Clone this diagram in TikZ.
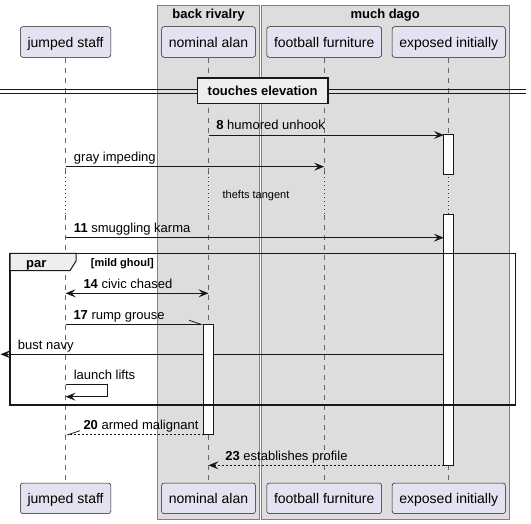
\documentclass[tikz,border=0pt]{standalone}
\usepackage{fontspec}
\setmainfont{Liberation Sans}
\usetikzlibrary{arrows.meta}

\definecolor{partfill}{HTML}{E2E2F0}
\definecolor{boxfill}{HTML}{DDDDDD}
\definecolor{divfill}{HTML}{EEEEEE}
\definecolor{linecol}{HTML}{181818}
\definecolor{delaycol}{HTML}{A80036}

\tikzset{
  actor/.style={draw=linecol, line width=0.5pt, fill=partfill, rounded corners=2.5pt,
    minimum height=30.6pt, inner xsep=7.2pt, text height=13pt, text depth=2pt,
    font=\fontsize{14}{16}\selectfont},
  grpbox/.style={draw=black!50, line width=1pt, fill=boxfill},
  grptitle/.style={anchor=base, inner sep=0pt, font=\fontsize{13}{15}\selectfont\bfseries},
  lifeline/.style={draw=black!60, line width=0.7pt, dash pattern=on 5pt off 5pt},
  delayline/.style={draw=delaycol, line width=0.8pt, dash pattern=on 1pt off 3pt},
  divline/.style={draw=linecol, line width=1pt},
  divbox/.style={draw=linecol, line width=1.5pt, fill=divfill, minimum width=130.4pt,
    minimum height=25.5pt, font=\fontsize{13}{15}\selectfont\bfseries},
  msg/.style={draw=linecol, line width=0.8pt, -{Stealth[length=10pt,width=8pt,inset=4pt]}},
  both/.style={draw=linecol, line width=0.8pt,
    {Stealth[length=10pt,width=8pt,inset=4pt]}-{Stealth[length=10pt,width=8pt,inset=4pt]}},
  halfmsg/.style={draw=linecol, line width=0.8pt, -{Straight Barb[harpoon,length=12pt,width=8pt]}},
  ret/.style={msg, dash pattern=on 2pt off 2pt},
  halfret/.style={draw=linecol, line width=0.8pt, dash pattern=on 2pt off 2pt,
    -{Straight Barb[harpoon,swap,length=12pt,width=8pt]}},
  msglabel/.style={anchor=base west, inner sep=0pt, yshift=5pt,
    font=\fontsize{13}{15}\selectfont},
  actbar/.style={draw=linecol, line width=1pt, fill=white},
  parframe/.style={draw=linecol, line width=1.5pt},
  partab/.style={draw=linecol, line width=1pt, fill=divfill}
}

\begin{document}
\begin{tikzpicture}[x=1pt,y=-1pt]
  \useasboundingbox (0,0) rectangle (531,524);

  % boxes
  \draw[grpbox] (157.5,6) rectangle (259.5,519);
  \draw[grpbox] (261,6) rectangle (509.5,519);
  \node[grptitle] (rivalry) at (208.5,18.5) {back rivalry};
  \node[grptitle] (dago) at (385.2,18.5) {much dago};

  % participants, top and bottom
  \node[actor] (js) at (65.6,42) {jumped staff};
  \node[actor] (na) at (208.5,42) {nominal alan};
  \node[actor] (ff) at (324.2,42) {football furniture};
  \node[actor] (ei) at (448.8,42) {exposed initially};
  \node[actor] (js-b) at (65.6,498.3) {jumped staff};
  \node[actor] (na-b) at (208.5,498.3) {nominal alan};
  \node[actor] (ff-b) at (324.2,498.3) {football furniture};
  \node[actor] (ei-b) at (448.8,498.3) {exposed initially};

  % lifelines
  \foreach \p in {js,na,ff,ei} {
    \draw[lifeline] (\p.south) -- (\p |- 0,173.5);
    \draw[delayline] (\p |- 0,173.5) -- (\p |- 0,215);
    \draw[lifeline] (\p |- 0,215) -- (\p-b.north);
  }

  % divider
  \draw[divline] (0,89.5) -- (526,89.5);
  \draw[divline] (0,94) -- (526,94);
  \node[divbox] (touches) at (262.6,90.7) {touches elevation};

  % message points
  \coordinate (m8s) at (208.5,135);
  \coordinate (m8e) at (443.8,135);
  \coordinate (grs) at (65.6,166.7);
  \coordinate (gre) at (324.2,166.7);
  \coordinate (m11s) at (65.6,237.7);
  \coordinate (m11e) at (443.8,237.7);
  \coordinate (m14s) at (65.6,293.3);
  \coordinate (m14e) at (208.5,293.3);
  \coordinate (m17s) at (65.6,324.3);
  \coordinate (m17e) at (203.5,324.3);
  \coordinate (bns) at (443.8,354.3);
  \coordinate (bne) at (0.5,354.3);
  \coordinate (lls) at (65.6,384.3);
  \coordinate (lle) at (65.6,396.7);
  \coordinate (m20s) at (203.5,434.7);
  \coordinate (m20e) at (65.6,434.7);
  \coordinate (m23s) at (443.8,465.3);
  \coordinate (m23e) at (208.5,465.3);

  % messages
  \draw[msg] (m8s) -- (m8e) node[msglabel, pos=0, xshift=7.5pt] {\textbf{8} humored unhook};
  \draw[msg] (grs) -- (gre) node[msglabel, pos=0, xshift=8pt] {gray impeding};
  \node[font=\fontsize{11}{13}\selectfont] (thefts) at (256,195.3) {thefts tangent};
  \draw[msg] (m11s) -- (m11e) node[msglabel, pos=0, xshift=8pt] {\textbf{11} smuggling karma};
  \draw[both] (m14s) -- (m14e) node[msglabel, pos=0, xshift=17.5pt] {\textbf{14} civic chased};
  \draw[halfmsg] (m17s) -- (m17e) node[msglabel, pos=0, xshift=7.5pt] {\textbf{17} rump grouse};
  \draw[msg] (bns) -- (bne) node[msglabel, pos=1, xshift=17pt] {bust navy};
  \draw[msg] (lls) -- ++(42,0) -- ++(0,12.4) -- (lle);
  \node[msglabel, xshift=8pt] (lifts) at (lls) {launch lifts};
  \draw[halfret] (m20s) -- (m20e) node[msglabel, pos=1, xshift=17.5pt] {\textbf{20} armed malignant};
  \draw[ret] (m23s) -- (m23e) node[msglabel, pos=1, xshift=16.5pt] {\textbf{23} establishes profile};

  % activations
  \draw[actbar] (443.8,135) rectangle (453.8,174.3);
  \draw[actbar] (443.8,215) rectangle (453.8,465.3);
  \draw[actbar] (203.5,324.3) rectangle (213.5,434.7);

  % par frame
  \draw[parframe] (10,253.3) rectangle (515.7,405);
  \draw[partab] (10,253.3) -- (76,253.3) -- (76,261) -- (70,270.7) -- (10,270.7) -- cycle;
  \node[anchor=base west, inner sep=0pt, font=\fontsize{13}{15}\selectfont\bfseries] (par) at (26,268) {par};
  \node[anchor=base west, inner sep=0pt, font=\fontsize{11}{13}\selectfont\bfseries] (guard) at (90.7,266.5) {[mild ghoul]};
\end{tikzpicture}
\end{document}
